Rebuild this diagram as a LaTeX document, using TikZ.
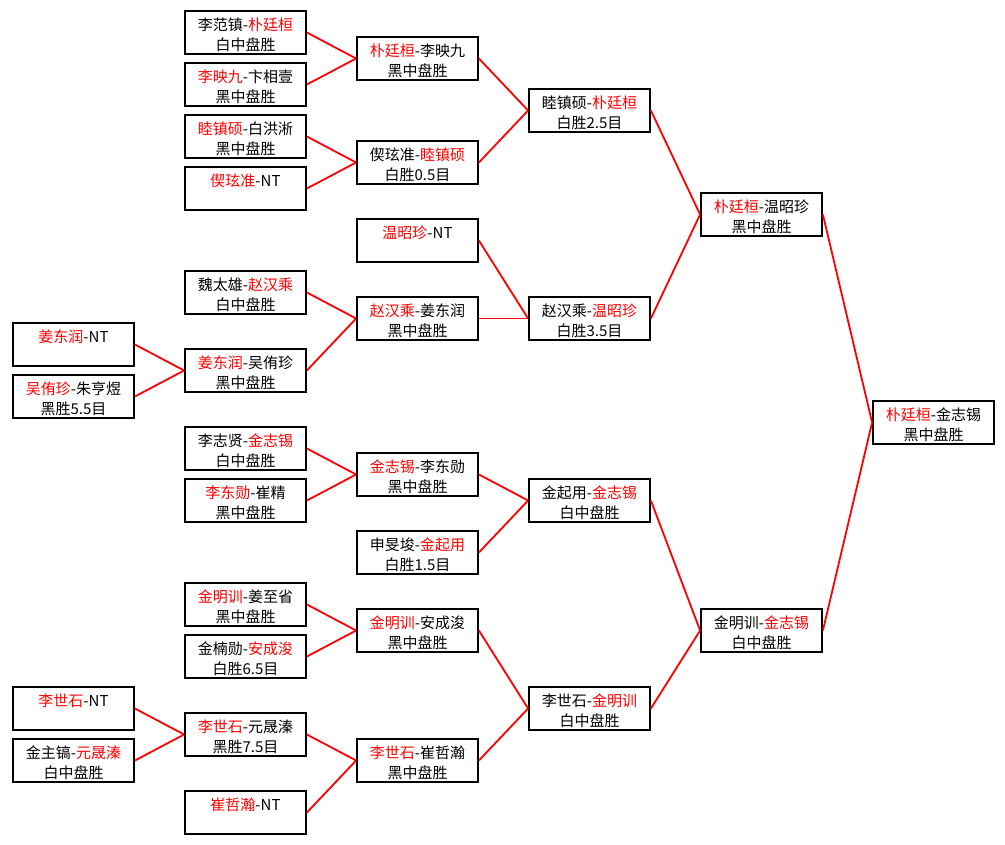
\documentclass[tikz,border=0pt]{standalone}
\usepackage{fontspec}
\setmainfont{Noto Sans CJK SC}
\usepackage{tikz}

\begin{document}
\begin{tikzpicture}[x=1pt,y=-1pt,
    match/.style={draw,line width=1.8pt,minimum width=121pt,minimum height=43pt,inner sep=0pt,
      align=center,text height=36.4pt,text depth=0pt,font=\fontsize{15}{20}\selectfont},
    link/.style={red,line width=1.8pt}]
      \path[use as bounding box] (0,0) rectangle (1005,845);

      \node[match] (q1) at (73.5,344.5) {\textcolor{red}{姜东润}-NT\\\mbox{}};
      \node[match] (q2) at (73.5,396.5) {\textcolor{red}{吴侑珍}-朱亨煜\\黑胜5.5目};
      \node[match] (q3) at (73.5,708.5) {\textcolor{red}{李世石}-NT\\\mbox{}};
      \node[match] (q4) at (73.5,760.5) {金主镐-\textcolor{red}{元晟溱}\\白中盘胜};

      \node[match] (a1) at (245.5,32.5) {李范镇-\textcolor{red}{朴廷桓}\\白中盘胜};
      \node[match] (a2) at (245.5,84.5) {\textcolor{red}{李映九}-卞相壹\\黑中盘胜};
      \node[match] (a3) at (245.5,136.5) {\textcolor{red}{睦镇硕}-白洪淅\\黑中盘胜};
      \node[match] (a4) at (245.5,188.5) {\textcolor{red}{偰玹准}-NT\\\mbox{}};
      \node[match] (a5) at (245.5,292.5) {魏太雄-\textcolor{red}{赵汉乘}\\白中盘胜};
      \node[match] (a6) at (245.5,370.5) {\textcolor{red}{姜东润}-吴侑珍\\黑中盘胜};
      \node[match] (a7) at (245.5,448.5) {李志贤-\textcolor{red}{金志锡}\\白中盘胜};
      \node[match] (a8) at (245.5,500.5) {\textcolor{red}{李东勋}-崔精\\黑中盘胜};
      \node[match] (a9) at (245.5,604.5) {\textcolor{red}{金明训}-姜至省\\黑中盘胜};
      \node[match] (a10) at (245.5,656.5) {金楠勋-\textcolor{red}{安成浚}\\白胜6.5目};
      \node[match] (a11) at (245.5,734.5) {\textcolor{red}{李世石}-元晟溱\\黑胜7.5目};
      \node[match] (a12) at (245.5,812.5) {\textcolor{red}{崔哲瀚}-NT\\\mbox{}};

      \node[match] (b1) at (417.5,58.5) {\textcolor{red}{朴廷桓}-李映九\\黑中盘胜};
      \node[match] (b2) at (417.5,162.5) {偰玹准-\textcolor{red}{睦镇硕}\\白胜0.5目};
      \node[match] (b3) at (417.5,240.5) {\textcolor{red}{温昭珍}-NT\\\mbox{}};
      \node[match] (b4) at (417.5,318.5) {\textcolor{red}{赵汉乘}-姜东润\\黑中盘胜};
      \node[match] (b5) at (417.5,474.5) {\textcolor{red}{金志锡}-李东勋\\黑中盘胜};
      \node[match] (b6) at (417.5,552.5) {申旻埈-\textcolor{red}{金起用}\\白胜1.5目};
      \node[match] (b7) at (417.5,630.5) {\textcolor{red}{金明训}-安成浚\\黑中盘胜};
      \node[match] (b8) at (417.5,760.5) {\textcolor{red}{李世石}-崔哲瀚\\黑中盘胜};

      \node[match] (c1) at (589.5,110.5) {睦镇硕-\textcolor{red}{朴廷桓}\\白胜2.5目};
      \node[match] (c2) at (589.5,318.5) {赵汉乘-\textcolor{red}{温昭珍}\\白胜3.5目};
      \node[match] (c3) at (589.5,500.5) {金起用-\textcolor{red}{金志锡}\\白中盘胜};
      \node[match] (c4) at (589.5,708.5) {李世石-\textcolor{red}{金明训}\\白中盘胜};

      \node[match] (d1) at (761.5,214.5) {\textcolor{red}{朴廷桓}-温昭珍\\黑中盘胜};
      \node[match] (d2) at (761.5,630.5) {金明训-\textcolor{red}{金志锡}\\白中盘胜};

      \node[match] (f) at (933.5,422.5) {\textcolor{red}{朴廷桓}-金志锡\\黑中盘胜};

      \draw[link] (q1.east) -- (a6.west);
      \draw[link] (q2.east) -- (a6.west);
      \draw[link] (q3.east) -- (a11.west);
      \draw[link] (q4.east) -- (a11.west);
      \draw[link] (a1.east) -- (b1.west);
      \draw[link] (a2.east) -- (b1.west);
      \draw[link] (a3.east) -- (b2.west);
      \draw[link] (a4.east) -- (b2.west);
      \draw[link] (a5.east) -- (b4.west);
      \draw[link] (a6.east) -- (b4.west);
      \draw[link] (a7.east) -- (b5.west);
      \draw[link] (a8.east) -- (b5.west);
      \draw[link] (a9.east) -- (b7.west);
      \draw[link] (a10.east) -- (b7.west);
      \draw[link] (a11.east) -- (b8.west);
      \draw[link] (a12.east) -- (b8.west);
      \draw[link] (b1.east) -- (c1.west);
      \draw[link] (b2.east) -- (c1.west);
      \draw[link] (b3.east) -- (c2.west);
      \draw[link] (b4.east) -- (c2.west);
      \draw[link] (b5.east) -- (c3.west);
      \draw[link] (b6.east) -- (c3.west);
      \draw[link] (b7.east) -- (c4.west);
      \draw[link] (b8.east) -- (c4.west);
      \draw[link] (c1.east) -- (d1.west);
      \draw[link] (c2.east) -- (d1.west);
      \draw[link] (c3.east) -- (d2.west);
      \draw[link] (c4.east) -- (d2.west);
      \draw[link] (d1.east) -- (f.west);
      \draw[link] (d2.east) -- (f.west);

\end{tikzpicture}
\end{document}
